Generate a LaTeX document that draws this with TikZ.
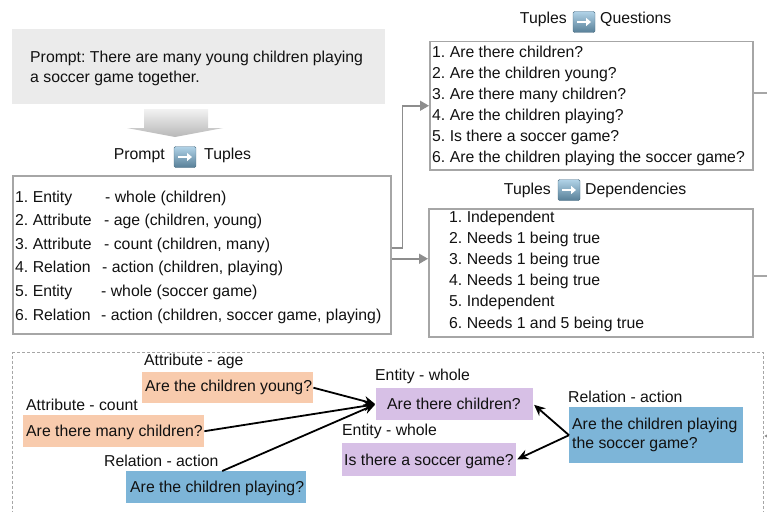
\documentclass[tikz,border=0pt]{standalone}
\usepackage{fontspec}
\setmainfont{Liberation Sans}
\usetikzlibrary{arrows.meta,calc}
\definecolor{peach}{HTML}{F8CBAD}
\definecolor{lav}{HTML}{D7C0E6}
\definecolor{sky}{HTML}{7DB5D8}
\definecolor{bord}{HTML}{A6A6A6}
\definecolor{promptbg}{HTML}{EBEBEB}
\definecolor{txtc}{HTML}{111111}
\begin{document}
\frenchspacing
\begin{tikzpicture}[x=1pt,y=-1pt,
  font=\fontsize{15.8}{19}\selectfont, text=txtc,
  txt/.style={anchor=base west, inner sep=0pt},
  txte/.style={anchor=base east, inner sep=0pt},
  frame/.style={draw=bord, line width=1.5pt, anchor=north west, inner sep=0pt},
  garrow/.style={draw=bord!85!black, line width=1.5pt, -{Triangle[length=9pt,width=10pt]}},
  gline/.style={draw=bord, line width=1.5pt},
  qb/.style={anchor=north west, inner sep=0pt},
  barrow/.style={draw=black, line width=1.8pt, -{Stealth[length=11pt,width=10pt]}, shorten >=1pt},
  icon/.style={minimum width=22pt, minimum height=21pt, inner sep=0pt, rounded corners=1.5pt,
    top color=sky!60!white, bottom color=sky!70!black, draw=sky!60!black, line width=0.4pt,
    path picture={\draw[white, line width=2.2pt, -{Triangle[length=5pt,width=8pt]}]
      ([xshift=-7pt]path picture bounding box.center) -- ([xshift=7pt]path picture bounding box.center);}}]
\useasboundingbox (0,0) rectangle (767,511);
\clip (0,0) rectangle (767,511);

% prompt
\node[anchor=north west, fill=promptbg, minimum width=373pt, minimum height=75pt, inner sep=0pt] (prompt) at (12,29) {};
\node[txt] (p1) at (30,63) {Prompt: There are many young children playing};
\node[txt] (p2) at (30,82) {a soccer game together.};

% down arrow
\shade[top color=white!95!black, bottom color=white!72!black]
  (144,109) -- (208,109) -- (208,128) -- (223,128) -- (175,137) -- (127,128) -- (144,128) -- cycle;

% label Prompt -> Tuples
\node[icon] (ic1) at (185,157) {};
\node[txte] (l1a) at (165,159) {Prompt};
\node[txt] (l1b) at (204,159) {Tuples};

% tuples box
\node[frame, minimum width=378pt, minimum height=158pt] (tup) at (12,175) {};
\node[txt] (t1) at (15,202) {1. Entity};       \node[txt] (d1) at (105,202) {- whole (children)};
\node[txt] (t2) at (15,225.6) {2. Attribute};  \node[txt] (d2) at (104,225.6) {- age (children, young)};
\node[txt] (t3) at (15,249.2) {3. Attribute};  \node[txt] (d3) at (104,249.2) {- count (children, many)};
\node[txt] (t4) at (15,272.8) {4. Relation};   \node[txt] (d4) at (102,272.8) {- action (children, playing)};
\node[txt] (t5) at (15,296.4) {5. Entity};     \node[txt] (d5) at (101,296.4) {- whole (soccer game)};
\node[txt] (t6) at (15,320) {6. Relation};     \node[txt] (d6) at (101,320) {- action (children, soccer game, playing)};

% label Tuples -> Questions
\node[icon] (ic2) at (584,22) {};
\node[txte] (l2a) at (567,24) {Tuples};
\node[txt] (l2b) at (600,24) {Questions};

% questions box
\node[frame, minimum width=323pt, minimum height=128pt] (que) at (429,41) {};
\node[txt] (q1) at (432,57) {1. Are there children?};
\node[txt] (q2) at (432,78) {2. Are the children young?};
\node[txt] (q3) at (432,99) {3. Are there many children?};
\node[txt] (q4) at (432,120) {4. Are the children playing?};
\node[txt] (q5) at (432,141) {5. Is there a soccer game?};
\node[txt] (q6) at (432,162) {6. Are the children playing the soccer game?};

% label Tuples -> Dependencies
\node[icon] (ic3) at (569,190) {};
\node[txte] (l3a) at (551,194) {Tuples};
\node[txt] (l3b) at (585,194) {Dependencies};

% dependencies box
\node[frame, minimum width=324pt, minimum height=128pt] (dep) at (428,208) {};
\node[txt] (e1) at (449,222) {1. Independent};
\node[txt] (e2) at (449,243.2) {2. Needs 1 being true};
\node[txt] (e3) at (449,264.4) {3. Needs 1 being true};
\node[txt] (e4) at (449,285.6) {4. Needs 1 being true};
\node[txt] (e5) at (449,306.8) {5. Independent};
\node[txt] (e6) at (449,328) {6. Needs 1 and 5 being true};

% connectors (gray)
\draw[garrow] ([yshift=7pt]tup.east) -- ++(11,0) |- (que.west);
\draw[garrow] ([yshift=-4pt]tup.east) -- ([yshift=-4pt]tup.east -| dep.west);
\coordinate (qout) at (780,93);
\coordinate (dout) at (780,276);
\draw[gline] (que.east |- qout) -- (qout);
\draw[gline] (dep.east |- dout) -- (dout);

% dashed graph box
\node[anchor=north west, draw=bord, dash pattern=on 3pt off 2pt, line width=1.3pt,
      minimum width=751pt, minimum height=175pt, inner sep=0pt] (graph) at (12,352) {};
\coordinate (gin) at (780,436);
\draw[garrow] (gin) -- (graph.east |- gin);

% graph nodes
\node[txt] (la) at (144,365) {Attribute - age};
\node[qb, fill=peach, minimum width=171pt, minimum height=31pt] (young) at (142,372) {};
\node[txt] (ya) at (145,391) {Are the children young?};

\node[txt] (lb) at (26,410) {Attribute - count};
\node[qb, fill=peach, minimum width=181pt, minimum height=32pt] (many) at (23,415) {};
\node[txt] (ma) at (26,436) {Are there many children?};

\node[txt] (lc) at (104,466) {Relation - action};
\node[qb, fill=sky, minimum width=180pt, minimum height=32pt] (play) at (126,471) {};
\node[txt] (pa) at (130,492) {Are the children playing?};

\node[txt] (ld) at (375,380) {Entity - whole};
\node[qb, fill=lav, minimum width=157pt, minimum height=32pt] (child) at (376,388) {};
\node[txt] (ca) at (387,409) {Are there children?};

\node[txt] (le) at (342,435) {Entity - whole};
\node[qb, fill=lav, minimum width=174pt, minimum height=33pt] (soccer) at (342,443) {};
\node[txt] (sa) at (344,465) {Is there a soccer game?};

\node[txt] (lf) at (568,402) {Relation - action};
\node[qb, fill=sky, minimum width=174pt, minimum height=56pt] (rel) at (569,407) {};
\node[txt] (ra1) at (572,429) {Are the children playing};
\node[txt] (ra2) at (572,448) {the soccer game?};

% black arrows
\draw[barrow] (young.east) -- (child.west);
\draw[barrow] (many.east) -- (child.west);
\draw[barrow] ([xshift=6pt]play.north) -- (child.west);
\draw[barrow] (rel.west) -- (child.east);
\draw[barrow] (rel.west) -- (soccer.east);
\end{tikzpicture}
\end{document}
